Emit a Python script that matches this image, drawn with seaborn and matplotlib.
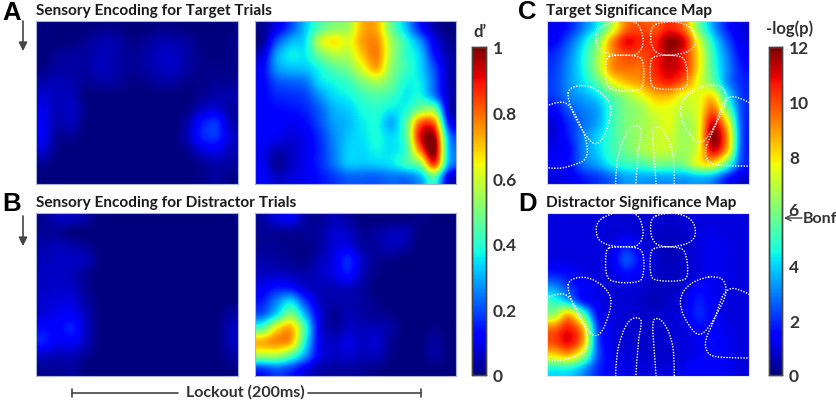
import numpy as np
import matplotlib
matplotlib.use('Agg')
import matplotlib.pyplot as plt
from matplotlib.path import Path
from matplotlib.patches import PathPatch
import seaborn as sns

# d' maps, 12 rows x 14 columns
target_pre = [
 [.00,.00,.00,.00,.01,.01,.00,.00,.01,.01,.00,.00,.00,.00],
 [.00,.00,.00,.02,.04,.04,.01,.02,.04,.04,.03,.00,.00,.01],
 [.00,.02,.03,.03,.05,.04,.02,.03,.06,.06,.03,.01,.00,.01],
 [.01,.03,.03,.03,.05,.04,.02,.03,.05,.06,.03,.01,.01,.01],
 [.04,.05,.04,.02,.03,.03,.01,.01,.03,.03,.01,.01,.02,.02],
 [.07,.05,.05,.00,.00,.00,.00,.00,.00,.00,.00,.02,.04,.04],
 [.09,.05,.06,.01,.00,.00,.00,.00,.00,.00,.01,.06,.08,.03],
 [.10,.04,.05,.00,.00,.00,.00,.00,.00,.00,.04,.14,.17,.05],
 [.10,.02,.02,.00,.00,.00,.00,.00,.00,.00,.05,.15,.17,.07],
 [.07,.01,.00,.00,.00,.00,.00,.00,.00,.00,.02,.08,.10,.05],
 [.02,.00,.00,.00,.00,.00,.00,.00,.00,.00,.00,.02,.04,.03],
 [.00,.00,.00,.00,.00,.00,.00,.00,.00,.00,.00,.01,.03,.01],
]
target_post = [
 [.02,.10,.20,.32,.45,.52,.55,.72,.72,.48,.32,.15,.04,.00],
 [.02,.20,.30,.35,.58,.66,.62,.74,.76,.55,.40,.27,.10,.02],
 [.08,.28,.36,.36,.48,.56,.57,.70,.77,.55,.41,.33,.14,.04],
 [.12,.27,.31,.32,.38,.45,.50,.62,.72,.52,.42,.34,.20,.05],
 [.12,.20,.22,.24,.34,.38,.42,.50,.55,.48,.38,.36,.22,.05],
 [.12,.16,.17,.19,.27,.34,.37,.42,.45,.42,.36,.38,.25,.06],
 [.12,.13,.14,.16,.22,.30,.33,.38,.40,.36,.38,.50,.50,.07],
 [.12,.12,.10,.13,.20,.28,.31,.36,.38,.30,.45,.80,.78,.15],
 [.12,.10,.08,.10,.17,.26,.32,.35,.38,.34,.45,.90,.96,.28],
 [.10,.05,.06,.10,.16,.25,.33,.34,.37,.35,.42,.78,1.0,.32],
 [.10,.02,.06,.10,.16,.24,.32,.32,.33,.35,.42,.52,.85,.30],
 [.12,.06,.08,.10,.14,.18,.22,.22,.22,.24,.24,.30,.45,.10],
]
distractor_pre = [
 [.02,.05,.05,.03,.00,.00,.00,.00,.00,.00,.00,.00,.00,.00],
 [.02,.02,.00,.00,.00,.00,.00,.00,.00,.00,.00,.00,.00,.00],
 [.04,.05,.04,.02,.00,.00,.00,.00,.00,.00,.00,.00,.00,.00],
 [.05,.06,.06,.05,.00,.00,.00,.00,.00,.00,.00,.00,.00,.00],
 [.06,.06,.05,.02,.00,.00,.00,.00,.00,.00,.00,.00,.00,.00],
 [.06,.07,.06,.02,.00,.00,.00,.00,.00,.00,.00,.00,.00,.00],
 [.07,.08,.08,.03,.00,.00,.00,.00,.00,.00,.00,.00,.00,.00],
 [.08,.10,.11,.05,.00,.00,.00,.00,.00,.00,.00,.00,.00,.03],
 [.13,.12,.15,.06,.00,.00,.00,.00,.00,.00,.00,.00,.00,.05],
 [.15,.10,.11,.05,.00,.00,.00,.00,.00,.00,.00,.00,.00,.05],
 [.06,.05,.05,.02,.00,.00,.00,.00,.00,.00,.00,.00,.00,.03],
 [.02,.02,.03,.00,.00,.00,.00,.00,.00,.00,.00,.00,.00,.00],
]
distractor_post = [
 [.03,.08,.10,.03,.02,.05,.03,.00,.00,.00,.00,.01,.00,.00],
 [.02,.02,.02,.02,.03,.07,.06,.02,.03,.05,.05,.00,.00,.00],
 [.02,.02,.01,.01,.03,.08,.09,.03,.03,.05,.03,.00,.00,.00],
 [.04,.03,.02,.01,.05,.09,.16,.06,.02,.01,.00,.00,.00,.00],
 [.06,.06,.05,.04,.06,.09,.14,.05,.01,.00,.00,.00,.00,.00],
 [.10,.14,.13,.07,.05,.05,.06,.03,.00,.00,.00,.00,.00,.00],
 [.15,.25,.33,.18,.06,.04,.04,.03,.01,.00,.00,.00,.00,.00],
 [.22,.35,.50,.30,.09,.02,.05,.03,.02,.01,.00,.00,.00,.00],
 [.45,.65,.72,.42,.10,.03,.06,.05,.05,.03,.00,.00,.01,.00],
 [.72,.76,.72,.38,.11,.06,.09,.06,.07,.02,.00,.00,.03,.00],
 [.55,.55,.45,.28,.10,.06,.07,.05,.05,.01,.00,.00,.03,.00],
 [.18,.22,.18,.10,.04,.03,.03,.02,.01,.00,.00,.00,.00,.00],
]

# -log(p) maps
target_sig = [
 [1.2,1.8,3.0,4.5,7.0,9.5,10.,9.8,10.5,9.5,6.0,3.5,1.8,1.0],
 [1.5,2.5,4.0,6.0,9.0,10.8,10.5,10.5,11.8,11.,7.5,4.5,2.5,1.2],
 [2.0,3.0,4.5,6.5,9.0,10.,10.,10.5,11.5,10.5,8.0,5.0,3.0,1.5],
 [2.2,3.2,4.5,6.5,9.0,9.5,9.5,10.5,11.2,10.5,8.0,5.2,3.2,1.8],
 [2.3,3.2,4.2,5.5,7.5,8.5,9.0,10.,10.5,9.5,7.5,5.8,3.2,2.0],
 [2.2,3.0,3.5,4.2,5.5,6.5,7.5,8.5,8.5,7.5,7.5,8.0,4.5,2.2],
 [1.5,2.5,3.0,3.5,5.0,6.0,6.5,7.5,7.5,7.0,7.5,9.5,6.0,2.4],
 [1.0,2.0,2.8,3.5,5.0,6.0,6.5,7.0,7.5,6.5,7.5,11.,8.0,2.5],
 [1.0,1.8,3.0,4.0,5.0,6.0,6.5,7.0,7.2,6.5,7.5,11.8,9.0,2.6],
 [1.2,1.5,3.0,4.0,5.0,5.8,6.5,7.0,7.0,6.5,7.5,11.,8.5,2.5],
 [1.3,1.6,2.8,3.5,4.5,5.0,5.2,5.8,5.8,6.0,7.5,8.0,5.5,2.2],
 [1.0,1.2,1.8,2.2,2.8,3.5,3.5,3.5,3.5,3.5,3.8,3.5,2.0,1.0],
]
distractor_sig = [
 [1.0,1.0,1.0,1.0,0.9,0.9,0.9,0.9,0.8,0.9,1.0,1.0,1.0,1.0],
 [1.0,1.0,1.0,1.0,0.9,1.0,0.9,0.8,0.7,0.8,1.0,1.1,1.0,1.0],
 [1.0,1.0,1.0,1.0,1.0,1.8,1.1,0.8,0.6,0.8,1.0,1.2,1.1,1.0],
 [1.1,1.0,1.0,1.0,1.2,2.4,1.5,0.9,0.6,0.8,1.0,1.2,1.1,1.0],
 [1.8,1.5,1.1,1.0,1.0,1.6,1.2,0.8,0.7,0.8,1.0,1.2,1.1,1.0],
 [3.2,2.2,1.4,1.1,0.9,1.0,0.9,0.7,0.7,0.9,1.4,1.2,1.0,1.0],
 [4.8,3.6,1.8,1.2,0.9,0.9,0.8,0.6,0.8,1.0,1.8,1.3,1.0,1.0],
 [6.5,8.5,5.5,1.6,1.0,0.9,0.8,0.8,0.9,1.1,1.9,1.4,1.0,1.0],
 [9.5,10.5,8.5,2.4,1.1,0.9,0.8,0.8,0.9,1.0,1.5,1.4,1.1,1.0],
 [10.,10.8,8.8,2.6,1.1,0.9,0.8,0.8,0.9,1.0,1.2,1.6,1.2,1.0],
 [8.0,8.5,6.5,2.6,1.2,1.0,0.9,0.8,0.8,1.0,1.2,1.4,1.2,1.0],
 [4.5,4.5,3.5,2.0,1.3,1.1,1.0,1.0,1.0,1.2,1.5,1.4,1.2,1.0],
]

# electrode outlines, as % of panel width / height
outlines_closed = [
 [(31,1),(38,-1),(45,1),(47,7),(48,14),(45,21),(39,21),(33,21),(26,18),(24,12),(25,5)],
 [(56,1),(64,0),(72,4),(74,12),(72,18),(64,21),(56,21),(52,17),(51,9),(52,3)],
 [(32,21),(45,21),(48,25),(48,38),(46,43),(33,43),(29,39),(29,25),(30,22)],
 [(53,21),(66,21),(69,25),(70,38),(68,42),(54,42),(51,39),(51,25)],
 [(11,41),(18,39),(25,42),(31,49),(32,56),(30,65),(27,74),(23,76),(19,70),(14,60),(10,47)],
 [(83,39),(88,41),(89,50),(85,60),(80,71),(75,76),(70,69),(66,59),(66,51),(70,44),(77,40)],
]
outlines_open = [
 [(0,52),(6,49),(11,51),(16,62),(20,74),(20,85),(14,88),(6,91),(0,90)],
 [(100,50),(94,46),(89,47),(86,53),(83,66),(78,78),(79,86),(84,89),(100,89)],
 [(34,100),(34,89),(37,74),(41,65),(46,64),(47,68),(45,78),(44,100)],
 [(54,100),(53,83),(52,67),(54,64),(58,67),(62,78),(63,90),(63,100)],
]

d_ticks = [0, 0.2, 0.4, 0.6, 0.8, 1]
d_minor = [0.1, 0.3, 0.5, 0.7, 0.9]
p_ticks = [0, 2, 4, 6, 8, 10, 12]
p_minor = [5, 7, 9, 11]

W, H = 837, 402
sns.set_style('white')
plt.rcParams['font.family'] = ['Lato', 'DejaVu Sans']
fig = plt.figure(figsize=(W / 100, H / 100), dpi=100)


def box(x0, y0, x1, y1):
    return fig.add_axes([x0 / W, 1 - y1 / H, (x1 - x0) / W, (y1 - y0) / H])


def put(x, y, s, size=10.5, color='#1a1a1a', family=None, ha='left', va='center'):
    fig.text(x / W, 1 - y / H, s, fontsize=size, fontweight='bold', color=color,
             ha=ha, va=va, family=family)


def smooth_path(pts, closed):
    # quadratic curves through the midpoints, pts act as control points
    pts = np.array(pts, dtype=float)
    if closed:
        start = (pts[-1] + pts[0]) / 2
        verts, codes = [start], [Path.MOVETO]
        for i in range(len(pts)):
            verts += [pts[i], (pts[i] + pts[(i + 1) % len(pts)]) / 2]
            codes += [Path.CURVE3, Path.CURVE3]
    else:
        verts, codes = [pts[0]], [Path.MOVETO]
        for i in range(1, len(pts) - 1):
            end = (pts[i] + pts[i + 1]) / 2 if i < len(pts) - 2 else pts[i + 1]
            verts += [pts[i], end]
            codes += [Path.CURVE3, Path.CURVE3]
    return Path(verts, codes)


def draw_map(rect, data, vmax, edge='#a9b4d6', cax=None):
    ax = box(*rect)
    data = np.array(data)
    nr, nc = data.shape
    sns.heatmap(data, ax=ax, cmap='jet', vmin=0, vmax=vmax, cbar=cax is not None,
                cbar_ax=cax, xticklabels=False, yticklabels=False)
    ax.imshow(data, cmap='jet', vmin=0, vmax=vmax, extent=(0, nc, nr, 0),
              interpolation='catrom', aspect='auto', zorder=1.5)
    ax.set_xlim(0, nc)
    ax.set_ylim(nr, 0)
    for s in ax.spines.values():
        s.set_visible(True)
        s.set_color(edge)
        s.set_linewidth(0.8)
        s.set_zorder(3)
    return ax


def add_outlines(ax, nr=12, nc=14):
    groups = [(outlines_closed, True), (outlines_open, False)]
    for group, closed in groups:
        for o in group:
            pts = [(x / 100 * nc, y / 100 * nr) for x, y in o]
            ax.add_patch(PathPatch(smooth_path(pts, closed), fill=False, edgecolor='white',
                                   linewidth=1.2, linestyle=(0, (0.01, 1.7)), capstyle='round',
                                   zorder=4))


def style_cbar(cax, ticks, minor, labels):
    cax.yaxis.set_ticks_position('right')
    cax.set_yticks(ticks)
    cax.set_yticklabels(labels, fontsize=12.5, fontweight='bold', color='#333333')
    cax.set_yticks(minor, minor=True)
    cax.tick_params(axis='y', which='major', direction='in', length=2.5, width=0.8,
                    color='#333333', pad=5, right=True)
    cax.tick_params(axis='y', which='minor', direction='in', length=2, width=0.8,
                    color='#333333', right=True)
    for s in cax.spines.values():
        s.set_visible(True)
        s.set_color('#444444')
        s.set_linewidth(1.0)


cax1 = box(472, 48, 486, 376)
cax2 = box(769, 48, 782, 376)

draw_map((36, 22, 238, 185), target_pre, 1)
draw_map((255, 22, 456, 185), target_post, 1, cax=cax1)
draw_map((36, 213.5, 238, 377), distractor_pre, 1)
draw_map((255, 213.5, 456, 377), distractor_post, 1)
ax_c = draw_map((547, 22, 749, 185), target_sig, 12, edge='#c9d3ea', cax=cax2)
ax_d = draw_map((547, 213.5, 749, 377), distractor_sig, 12, edge='#dfe5f2')
add_outlines(ax_c)
add_outlines(ax_d)

style_cbar(cax1, d_ticks, d_minor, ['0', '0.2', '0.4', '0.6', '0.8', '1'])
style_cbar(cax2, p_ticks, p_minor, ['0', '2', '4', '', '8', '10', '12'])

# overlay for the free annotations, in image pixels
over = fig.add_axes([0, 0, 1, 1], facecolor='none', zorder=10)
over.set_xlim(0, W)
over.set_ylim(H, 0)
over.axis('off')

put(36, 11, 'Sensory Encoding for Target Trials', 11.1)
put(36, 203, 'Sensory Encoding for Distractor Trials', 11.1)
put(546, 11, 'Target Significance Map', 11.1)
put(546, 203, 'Distractor Significance Map', 11.1)

for x, y, s in [(2, 12.5, 'A'), (2, 204, 'B'), (518, 12, 'C'), (518, 204, 'D')]:
    put(x, y, s, 18.5, color='black', family='Liberation Sans')

put(480, 32, "d\u2019", 12, color='#333333', ha='center')
put(790, 29, '-log(p)', 12, color='#333333', ha='center')
put(793, 211, '6', 12.5, color='#333333', ha='center')
put(803, 219, 'Bonf', 11.5, color='#333333')
put(245, 392, 'Lockout (200ms)', 11.5, color='#333333', ha='center')

arrow = dict(arrowstyle='-|>,head_width=0.25,head_length=0.5', color='#444444', lw=1.2,
             shrinkA=0, shrinkB=0)
over.annotate('', xy=(23, 52), xytext=(23, 22), arrowprops=arrow)
over.annotate('', xy=(23, 247), xytext=(23, 217), arrowprops=arrow)
over.annotate('', xy=(784, 219), xytext=(802, 219),
              arrowprops=dict(arrowstyle='->,head_width=0.2,head_length=0.4', color='#444444',
                              lw=1.0, shrinkA=0, shrinkB=0))

over.plot([72, 178], [394, 394], color='#444444', lw=1.2)
over.plot([308, 421], [394, 394], color='#444444', lw=1.2)
over.plot([72, 72], [390, 398], color='#444444', lw=1.2)
over.plot([421, 421], [390, 398], color='#444444', lw=1.2)

fig.savefig('out.png', dpi=100)
